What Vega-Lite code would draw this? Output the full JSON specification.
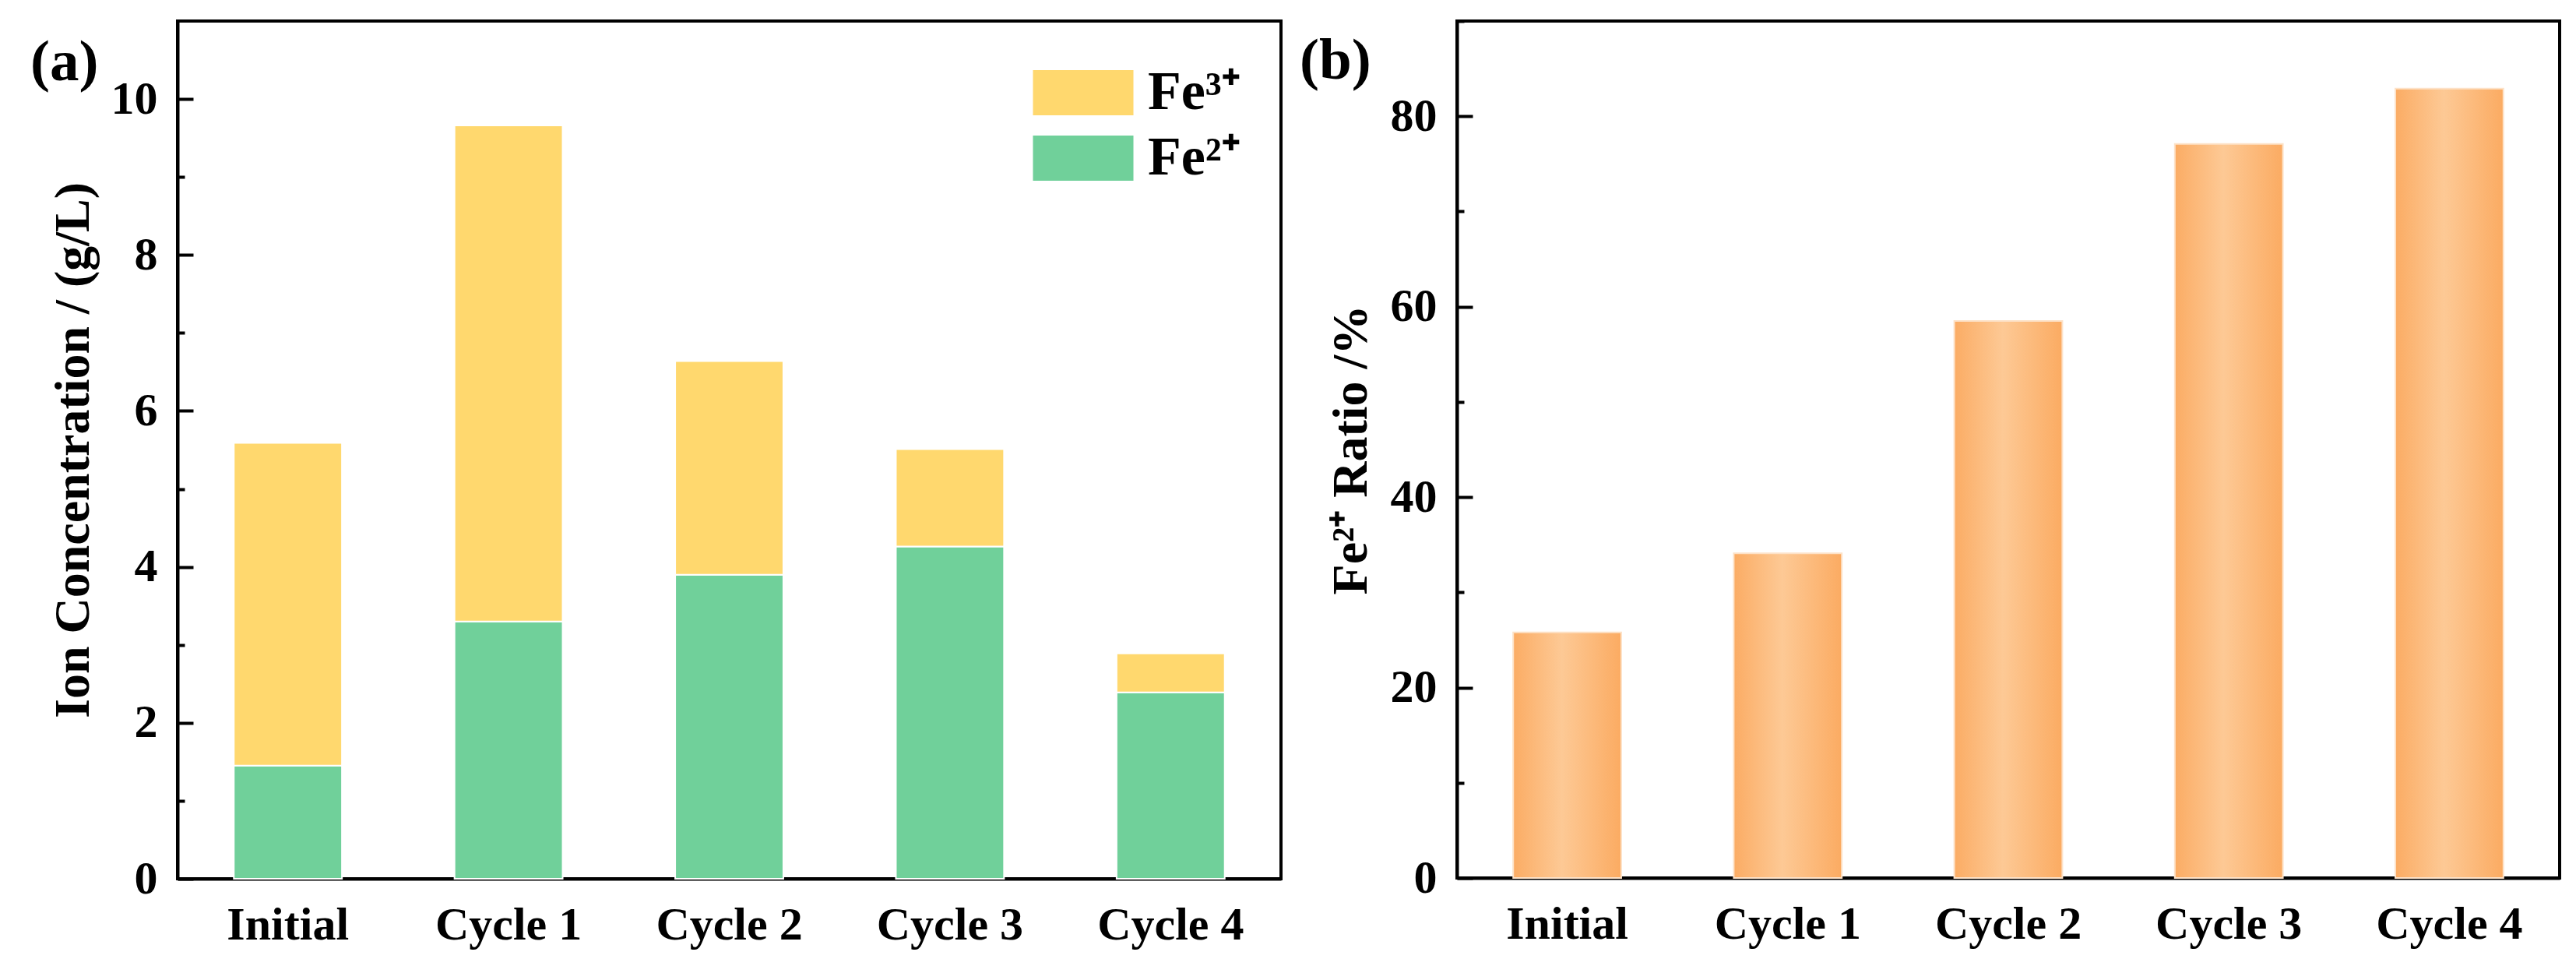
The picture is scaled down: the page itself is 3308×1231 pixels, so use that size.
{
  "$schema": "https://vega.github.io/schema/vega-lite/v6.json",
  "padding": {"left": 37, "top": 23, "right": 0, "bottom": 0},
  "spacing": 20,
  "config": {
    "font": "Liberation Serif",
    "view": {"stroke": "black", "strokeWidth": 4},
    "axis": {
      "domainColor": "black",
      "domainWidth": 4,
      "labelColor": "black",
      "labelFontSize": 60,
      "labelFontWeight": "bold",
      "labelLimit": 0,
      "titleColor": "black",
      "titleFontSize": 64,
      "titleFontWeight": "bold",
      "grid": false
    },
    "title": {"fontSize": 75, "fontWeight": "bold", "color": "black"}
  },
  "hconcat": [
    {
      "width": 1417,
      "height": 1101,
      "title": {"text": "(a)", "anchor": "start", "frame": "group", "baseline": "top", "offset": 0, "dx": -189, "dy": 92},
      "data": {
        "values": [
          {"cycle": "Initial", "ion": "Fe²⁺", "value": 1.45},
          {"cycle": "Initial", "ion": "Fe³⁺", "value": 4.14},
          {"cycle": "Cycle 1", "ion": "Fe²⁺", "value": 3.30},
          {"cycle": "Cycle 1", "ion": "Fe³⁺", "value": 6.36},
          {"cycle": "Cycle 2", "ion": "Fe²⁺", "value": 3.90},
          {"cycle": "Cycle 2", "ion": "Fe³⁺", "value": 2.74},
          {"cycle": "Cycle 3", "ion": "Fe²⁺", "value": 4.26},
          {"cycle": "Cycle 3", "ion": "Fe³⁺", "value": 1.25},
          {"cycle": "Cycle 4", "ion": "Fe²⁺", "value": 2.39},
          {"cycle": "Cycle 4", "ion": "Fe³⁺", "value": 0.50}
        ]
      },
      "mark": {"type": "bar", "stroke": "white", "strokeWidth": 2},
      "encoding": {
        "x": {
          "field": "cycle",
          "type": "nominal",
          "sort": null,
          "scale": {"paddingInner": 0.51, "paddingOuter": 0.255},
          "axis": {"title": null, "labelAngle": 0, "ticks": false, "labelPadding": 30}
        },
        "y": {
          "field": "value",
          "type": "quantitative",
          "stack": "zero",
          "scale": {"domain": [0, 11], "nice": false},
          "axis": {
            "title": "Ion Concentration / (g/L)",
            "values": [0, 1, 2, 3, 4, 5, 6, 7, 8, 9, 10],
            "labelExpr": "datum.value % 2 === 0 ? datum.label : ''",
            "tickColor": "black",
            "tickWidth": 4,
            "tickSize": {"condition": {"test": "datum.value % 2 === 1", "value": -9}, "value": -20},
            "labelPadding": 46,
            "titlePadding": 16
          }
        },
        "color": {
          "field": "ion",
          "type": "nominal",
          "scale": {"domain": ["Fe³⁺", "Fe²⁺"], "range": ["#FFD86E", "#70D09A"]},
          "legend": {
            "title": null,
            "orient": "none",
            "legendX": 1120,
            "legendY": 49,
            "symbolType": "M-1.5,-0.675H1.5V0.675H-1.5Z",
            "symbolSize": 7396,
            "symbolStrokeWidth": 0,
            "symbolOpacity": 1,
            "labelFontSize": 70,
            "labelFontWeight": "bold",
            "labelColor": "black",
            "labelOffset": 40,
            "labelLimit": 0,
            "rowPadding": 6
          }
        },
        "order": {"field": "ion", "sort": "ascending"}
      }
    },
    {
      "width": 1416,
      "height": 1100,
      "title": {"text": "(b)", "anchor": "start", "frame": "group", "baseline": "top", "offset": 0, "dx": -202, "dy": 92},
      "data": {
        "values": [
          {"cycle": "Initial", "ratio": 25.8},
          {"cycle": "Cycle 1", "ratio": 34.1},
          {"cycle": "Cycle 2", "ratio": 58.5},
          {"cycle": "Cycle 3", "ratio": 77.1},
          {"cycle": "Cycle 4", "ratio": 82.9}
        ]
      },
      "mark": {
        "type": "bar",
        "stroke": "#FDE2C8",
        "strokeWidth": 2,
        "color": {
          "gradient": "linear",
          "x1": 0, "x2": 1, "y1": 0, "y2": 0,
          "stops": [
            {"offset": 0, "color": "#FBAC64"},
            {"offset": 0.45, "color": "#FDC995"},
            {"offset": 1, "color": "#FBAB62"}
          ]
        }
      },
      "encoding": {
        "x": {
          "field": "cycle",
          "type": "nominal",
          "sort": null,
          "scale": {"paddingInner": 0.51, "paddingOuter": 0.255},
          "axis": {"title": null, "labelAngle": 0, "ticks": false, "labelPadding": 30}
        },
        "y": {
          "field": "ratio",
          "type": "quantitative",
          "scale": {"domain": [0, 90], "nice": false},
          "axis": {
            "title": "Fe²⁺ Ratio /%",
            "values": [0, 10, 20, 30, 40, 50, 60, 70, 80, 90],
            "labelExpr": "datum.value % 20 === 0 ? datum.label : ''",
            "tickColor": "black",
            "tickWidth": 4,
            "tickSize": {"condition": {"test": "datum.value % 20 === 10", "value": -9}, "value": -20},
            "labelPadding": 46,
            "titlePadding": 18
          }
        }
      }
    }
  ]
}
